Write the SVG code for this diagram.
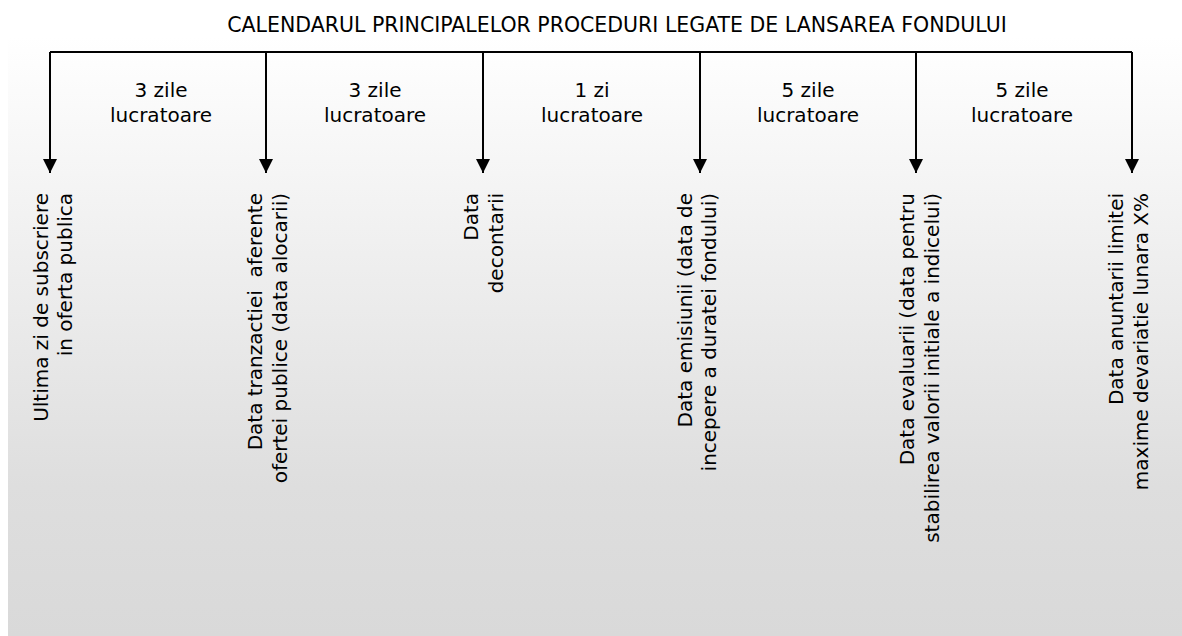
<svg xmlns="http://www.w3.org/2000/svg" width="1182" height="636" viewBox="0 0 1182 636">
<style>
text{font-family:"DejaVu Sans","Liberation Sans",sans-serif;font-size:20px;fill:#000}
.c{text-anchor:middle}
.v{text-anchor:end}
.ln{stroke:#000;stroke-width:2;fill:none}
</style>
<defs>
<linearGradient id="bg" x1="0" y1="0" x2="0" y2="1">
<stop offset="0" stop-color="#ffffff"/>
<stop offset="0.75" stop-color="#dedede"/>
<stop offset="1" stop-color="#d9d9d9"/>
</linearGradient>
<marker id="ah" markerWidth="14" markerHeight="14" refX="7" refY="14" orient="0" markerUnits="userSpaceOnUse" viewBox="0 0 14 14">
<path d="M0,0 L14,0 L7,14 Z" fill="#000"/>
</marker>
</defs>
<rect x="0" y="0" width="1182" height="636" fill="#fff"/>
<rect x="8" y="37" width="1174" height="599" fill="url(#bg)"/>
<text id="title" class="c" x="617" y="32" style="font-size:20.5px">CALENDARUL PRINCIPALELOR PROCEDURI LEGATE DE LANSAREA FONDULUI</text>
<g id="connectors">
<path class="ln" d="M50,52 H1132"/>
<path class="ln" d="M50,52 V173" marker-end="url(#ah)"/>
<path class="ln" d="M266,52 V173" marker-end="url(#ah)"/>
<path class="ln" d="M483,52 V173" marker-end="url(#ah)"/>
<path class="ln" d="M700,52 V173" marker-end="url(#ah)"/>
<path class="ln" d="M916,52 V173" marker-end="url(#ah)"/>
<path class="ln" d="M1132,52 V173" marker-end="url(#ah)"/>
</g>
<g id="intervals">
<text class="c" x="161" y="97">3 zile</text><text class="c" x="161" y="122">lucratoare</text>
<text class="c" x="375" y="97">3 zile</text><text class="c" x="375" y="122">lucratoare</text>
<text class="c" x="592" y="97">1 zi</text><text class="c" x="592" y="122">lucratoare</text>
<text class="c" x="808" y="97">5 zile</text><text class="c" x="808" y="122">lucratoare</text>
<text class="c" x="1022" y="97">5 zile</text><text class="c" x="1022" y="122">lucratoare</text>
</g>
<g id="n1" transform="translate(0,193) rotate(-90)">
<text class="v" x="0" y="48">Ultima zi de subscriere</text>
<text class="v" x="0" y="72">in oferta publica</text>
</g>
<g id="n2" transform="translate(0,193) rotate(-90)">
<text class="v" x="0" y="262" xml:space="preserve">Data tranzactiei  aferente</text>
<text class="v" x="0" y="287">ofertei publice (data alocarii)</text>
</g>
<g id="n3" transform="translate(0,193) rotate(-90)">
<text class="v" x="0" y="478">Data</text>
<text class="v" x="0" y="503">decontarii</text>
</g>
<g id="n4" transform="translate(0,193) rotate(-90)">
<text class="v" x="0" y="692">Data emisiunii (data de</text>
<text class="v" x="0" y="716">incepere a duratei fondului)</text>
</g>
<g id="n5" transform="translate(0,193) rotate(-90)">
<text class="v" x="0" y="914">Data evaluarii (data pentru</text>
<text class="v" x="0" y="939">stabilirea valorii initiale a indicelui)</text>
</g>
<g id="n6" transform="translate(0,193) rotate(-90)">
<text class="v" x="0" y="1123">Data anuntarii limitei</text>
<text class="v" x="0" y="1148">maxime devariatie lunara X%</text>
</g>
</svg>
